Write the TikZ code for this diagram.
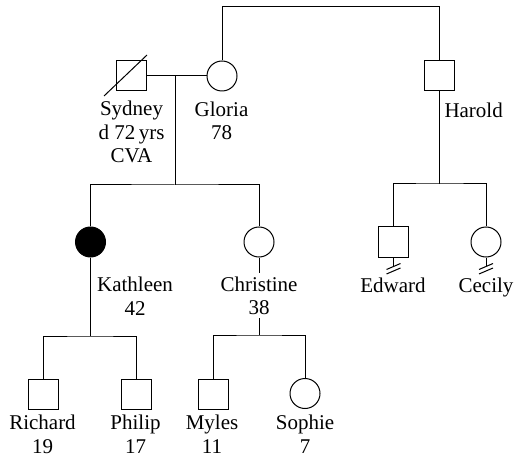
\documentclass[tikz,border=0pt]{standalone}
\usepackage{fontspec}
\setmainfont{Liberation Serif}
\usetikzlibrary{calc}
\begin{document}
\begin{tikzpicture}[x=1bp,y=-1bp, line width=1bp,
  male/.style={draw, rectangle, minimum size=30bp, inner sep=0pt},
  female/.style={draw, circle, minimum size=30bp, inner sep=0pt},
  affected/.style={fill=black},
  lbl/.style={font=\fontsize{21bp}{23.5bp}\selectfont, align=center, inner sep=0pt, anchor=base},
  ]
\useasboundingbox (0,0) rectangle (514,458);
% individuals
\node[male] (sydney) at (131.5,76) {};
\node[female] (gloria) at (222,76) {};
\node[male] (harold) at (439.5,76) {};
\node[female,affected] (kathleen) at (90.5,242) {};
\node[female] (christine) at (259,242) {};
\node[male] (edward) at (393.5,242) {};
\node[female] (cecily) at (486,242) {};
\node[male] (richard) at (43,394) {};
\node[male] (philip) at (136,394) {};
\node[male] (myles) at (213,394) {};
\node[female] (sophie) at (305,393.5) {};
% deceased mark
\draw ($(sydney.center)+(-27.5,20)$) -- ($(sydney.center)+(15.5,-21)$);
% gloria to harold (siblings)
\coordinate (toprow) at (0,7);
\draw (gloria.north) |- (harold.north |- toprow) -- (harold.north);
% marriage
\draw (sydney) -- (gloria);
\coordinate (m1) at (175,76);
\coordinate (s1) at (175,185);
\draw (m1) -- (s1);
\draw (kathleen.north) |- (s1) -| (christine.north);
% harold's children
\coordinate (s2) at (439.5,184);
\draw (harold.south) -- (s2);
\draw (edward.north) |- (s2) -| (cecily.north);
% no offspring marks
\draw (edward.south) -- ++(0,8.5);
\draw ([shift={(-7,12)}]edward.south) -- ++(14,-6);
\draw ([shift={(-7,16.5)}]edward.south) -- ++(14,-6);
\draw (cecily.south) -- ++(0,8.5);
\draw ([shift={(-7,12)}]cecily.south) -- ++(14,-6);
\draw ([shift={(-7,16.5)}]cecily.south) -- ++(14,-6);
% kathleen's children
\coordinate (s3) at (90.5,336);
\draw (kathleen.south) -- (s3);
\draw (richard.north) |- (s3) -| (philip.north);
% christine's children
\coordinate (c1) at (259,273);
\coordinate (c2) at (259,318);
\coordinate (s4) at (259,335);
\draw (christine.south) -- (c1);
\draw (c2) -- (s4);
\draw (myles.north) |- (s4) -| (sophie.north);
% labels (base = baseline of last line)
\node[lbl] (sydneylbl) at (131.5,163) {Sydney\\d 72\,yrs\\CVA};
\node[lbl] (glorialbl) at (221.5,140) {Gloria\\78};
\node[lbl, anchor=base west] (harollbl) at (444,118) {Harold};
\node[lbl] (kathleenlbl) at (135,315) {Kathleen\\42};
\node[lbl] (christinelbl) at (259,314.5) {Christine\\38};
\node[lbl] (edwardlbl) at (393,292.5) {Edward};
\node[lbl] (cecilylbl) at (486,292.5) {Cecily};
\node[lbl] (richardlbl) at (42.5,453) {Richard\\19};
\node[lbl] (philiplbl) at (135.5,453) {Philip\\17};
\node[lbl] (myleslbl) at (212,453) {Myles\\11};
\node[lbl] (sophielbl) at (305,453) {Sophie\\7};
\end{tikzpicture}
\end{document}
